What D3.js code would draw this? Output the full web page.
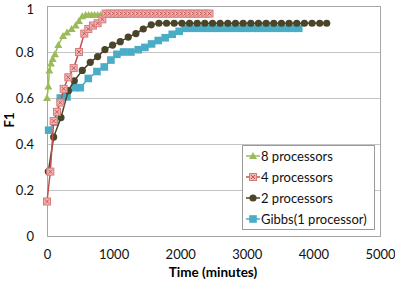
<!DOCTYPE html>
<html>
<head>
<meta charset="utf-8">
<script src="https://cdn.jsdelivr.net/npm/d3@7"></script>
<style>
  body { margin: 0; background: #fff; }
  svg { display: block; font-family: Lato, "Open Sans", sans-serif; }
</style>
</head>
<body>
<svg width="395" height="282"></svg>
<script>
// series values (time in minutes, F1)
const p8Time = [0, 20, 35, 60, 85, 120, 170, 240, 300, 370, 430, 480, 530, 580, 625, 670, 715, 760, 805, 850, 895, 940, 985, 1030, 1075, 1120];
const p8F1 = [0.60, 0.65, 0.72, 0.75, 0.77, 0.79, 0.83, 0.87, 0.885, 0.90, 0.915, 0.935, 0.955, 0.961, 0.961, 0.961, 0.961, 0.961, 0.961, 0.961, 0.961, 0.961, 0.961, 0.961, 0.961, 0.961];

const p4Time = [0, 50, 100, 150, 200, 250, 320, 400, 480, 560, 620, 690, 760, 830, 880, 940, 1000, 1060, 1120, 1180, 1240, 1300, 1360, 1420, 1480, 1540, 1600, 1660, 1720, 1780, 1840, 1900, 1960, 2020, 2080, 2140, 2200, 2260, 2320, 2380, 2440];
const p4F1 = [0.15, 0.28, 0.50, 0.54, 0.58, 0.64, 0.69, 0.73, 0.80, 0.88, 0.90, 0.915, 0.925, 0.942, 0.967, 0.967, 0.967, 0.967, 0.967, 0.967, 0.967, 0.967, 0.967, 0.967, 0.967, 0.967, 0.967, 0.967, 0.967, 0.967, 0.967, 0.967, 0.967, 0.967, 0.967, 0.967, 0.967, 0.967, 0.967, 0.967, 0.967];

const p2Time = [20, 100, 210, 320, 410, 530, 650, 760, 870, 985, 1100, 1220, 1335, 1445, 1565, 1680, 1795, 1910, 2025, 2140, 2255, 2370, 2485, 2600, 2715, 2830, 2945, 3060, 3175, 3290, 3405, 3520, 3635, 3750, 3865, 3980, 4095, 4200];
const p2F1 = [0.28, 0.43, 0.515, 0.632, 0.675, 0.72, 0.755, 0.78, 0.81, 0.83, 0.845, 0.865, 0.88, 0.90, 0.918, 0.925, 0.925, 0.925, 0.925, 0.925, 0.925, 0.925, 0.925, 0.925, 0.925, 0.925, 0.925, 0.925, 0.925, 0.925, 0.925, 0.925, 0.925, 0.925, 0.925, 0.925, 0.925, 0.925];

const gibbsTime = [25, 115, 200, 300, 420, 500, 620, 750, 860, 960, 1050, 1150, 1260, 1370, 1470, 1570, 1670, 1775, 1880, 1985, 2080, 2180, 2280, 2380, 2480, 2580, 2680, 2780, 2880, 2980, 3080, 3180, 3280, 3380, 3480, 3580, 3680, 3780];
const gibbsF1 = [0.46, 0.495, 0.60, 0.605, 0.645, 0.645, 0.685, 0.715, 0.735, 0.765, 0.79, 0.80, 0.80, 0.81, 0.82, 0.835, 0.85, 0.862, 0.877, 0.89, 0.903, 0.903, 0.903, 0.903, 0.903, 0.903, 0.903, 0.903, 0.903, 0.903, 0.903, 0.903, 0.903, 0.903, 0.903, 0.903, 0.903, 0.903];

const xTicks = [0, 1000, 2000, 3000, 4000, 5000];
const yTicks = [0, 0.2, 0.4, 0.6, 0.8, 1];
const seriesNames = ["8 processors", "4 processors", "2 processors", "Gibbs(1 processor)"];

const svg = d3.select("svg");

const xScale = d3.scaleLinear().domain([0, 5000]).range([47, 380]);
const yScale = d3.scaleLinear().domain([0, 1]).range([236, 6]);

// gridlines
svg.append("g")
  .selectAll("line")
  .data(yTicks.filter((d) => d > 0 && d < 1))
  .enter()
  .append("line")
  .attr("x1", xScale(0))
  .attr("x2", xScale(5000))
  .attr("y1", (d) => Math.round(yScale(d)) + 0.5)
  .attr("y2", (d) => Math.round(yScale(d)) + 0.5)
  .attr("stroke", "#c4c4c4");

// plot border
svg.append("rect")
  .attr("x", xScale(0) + 0.5)
  .attr("y", yScale(1) + 0.5)
  .attr("width", xScale(5000) - xScale(0))
  .attr("height", yScale(0) - yScale(1))
  .attr("fill", "none")
  .attr("stroke", "#a6a6a6");

const yAxis = svg.append("g")
  .attr("transform", `translate(${xScale(0) - 13},0)`)
  .call(d3.axisLeft(yScale).tickValues(yTicks).tickSize(0).tickPadding(0).tickFormat(d3.format("~g")));
yAxis.select(".domain").remove();
yAxis.selectAll("text").attr("font-size", 13).attr("font-family", "Lato").attr("fill", "#111");
// keep the top label inside the picture
yAxis.selectAll("text").filter((d) => d === 1).attr("dy", "0.55em");

const xAxis = svg.append("g")
  .attr("transform", `translate(0,${yScale(0) + 14})`)
  .call(d3.axisBottom(xScale).tickValues(xTicks).tickSize(0).tickPadding(0).tickFormat(d3.format("d")));
xAxis.select(".domain").remove();
xAxis.selectAll("text").attr("font-size", 13).attr("font-family", "Lato").attr("fill", "#111");

svg.append("text")
  .attr("x", 213)
  .attr("y", 277)
  .attr("text-anchor", "middle")
  .attr("font-size", 13.5)
  .attr("font-weight", "bold")
  .text("Time (minutes)");

svg.append("text")
  .attr("transform", "translate(14,120) rotate(-90)")
  .attr("text-anchor", "middle")
  .attr("font-size", 13)
  .attr("font-weight", "bold")
  .text("F1");

const colors = ["#9bbb59", "#c0504d", "#4a4528", "#4bacc6"];

const drawMarker = (g, i, x, y) => {
  if (i === 0) {
    g.append("path")
      .attr("d", `M${x},${y - 4}L${x + 4},${y + 3}L${x - 4},${y + 3}Z`)
      .attr("fill", colors[0]);
  } else if (i === 1) {
    g.append("rect")
      .attr("x", x - 3.5).attr("y", y - 3.5).attr("width", 7).attr("height", 7)
      .attr("fill", "#f0b4b3").attr("stroke", "#d67b79").attr("stroke-width", 1);
    g.append("path")
      .attr("d", `M${x - 2},${y - 2}L${x + 2},${y + 2}M${x + 2},${y - 2}L${x - 2},${y + 2}`)
      .attr("stroke", "#c0504d").attr("stroke-width", 0.9);
  } else if (i === 2) {
    g.append("circle").attr("cx", x).attr("cy", y).attr("r", 3.6).attr("fill", colors[2]);
  } else {
    g.append("rect")
      .attr("x", x - 3.8).attr("y", y - 3.8).attr("width", 7.6).attr("height", 7.6)
      .attr("fill", colors[3]);
  }
};

const series = [
  p8Time.map((t, k) => [t, p8F1[k]]),
  p4Time.map((t, k) => [t, p4F1[k]]),
  p2Time.map((t, k) => [t, p2F1[k]]),
  gibbsTime.map((t, k) => [t, gibbsF1[k]]),
];

const line = d3.line().x((d) => xScale(d[0])).y((d) => yScale(d[1]));

// draw Gibbs first so the faster runs sit on top
[3, 2, 0, 1].forEach((i) => {
  const g = svg.append("g");
  g.append("path")
    .attr("d", line(series[i]))
    .attr("fill", "none")
    .attr("stroke", colors[i])
    .attr("stroke-width", 1.5);
  series[i].forEach((d) => drawMarker(g, i, xScale(d[0]), yScale(d[1])));
});

// legend
const legend = svg.append("g");
legend.append("rect")
  .attr("x", 242.5).attr("y", 145.5).attr("width", 132).attr("height", 84)
  .attr("fill", "#fff").attr("stroke", "#9a9a9a");

seriesNames.forEach((name, i) => {
  const cy = 156 + i * 21;
  legend.append("line")
    .attr("x1", 246).attr("x2", 260).attr("y1", cy).attr("y2", cy)
    .attr("stroke", colors[i]).attr("stroke-width", 1.5);
  drawMarker(legend, i, 253, cy);
  legend.append("text")
    .attr("x", 261).attr("y", cy + 4.5)
    .attr("font-size", 13)
    .attr("fill", "#111")
    .text(name);
});
</script>
</body>
</html>
